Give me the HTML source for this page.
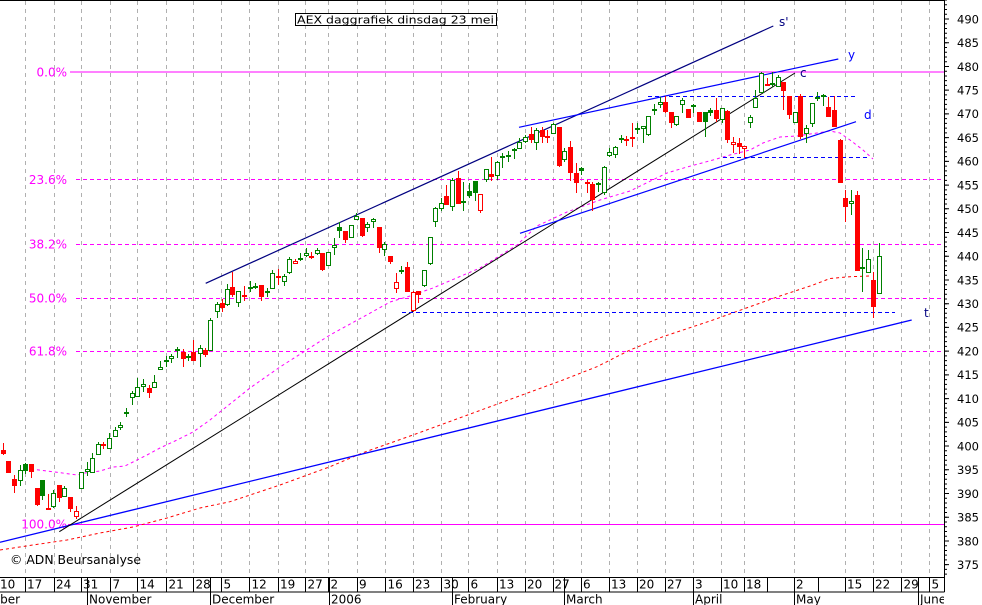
<!DOCTYPE html>
<html><head><meta charset="utf-8"><style>
html,body{margin:0;padding:0;background:#fff;}
svg{display:block;}
text{font-family:"DejaVu Sans","Liberation Sans",sans-serif;}
</style></head><body>
<svg width="982" height="605" viewBox="0 0 982 605" xmlns="http://www.w3.org/2000/svg">
<defs><clipPath id="cp"><rect x="0" y="0" width="944" height="605"/></clipPath></defs>
<rect width="982" height="605" fill="#fff"/>
<!-- vertical gridlines -->
<path stroke="#b0b0b0" stroke-width="1" stroke-dasharray="4 4" fill="none" d="M25.5 1V577M54.5 1V577M81.5 1V577M110.5 1V577M137.5 1V577M166.5 1V577M193.5 1V577M221.5 1V577M249.5 1V577M278.5 1V577M305.5 1V577M328.5 1V577M357.5 1V577M385.5 1V577M413.5 1V577M441.5 1V577M468.5 1V577M497.5 1V577M525.5 1V577M553.5 1V577M581.5 1V577M609.5 1V577M637.5 1V577M665.5 1V577M693.5 1V577M721.5 1V577M744.5 1V577M794.5 1V577M845.5 1V577M873.5 1V577M901.5 1V577M929.5 1V577"/>
<!-- fib lines -->
<path d="M70 72H944M68 524.5H944" stroke="#f0f" stroke-width="1" fill="none"/>
<path d="M76 179.5H944M76 244.5H944M76 298.5H944M76 351.5H944" stroke="#f0f" stroke-width="1" stroke-dasharray="4 3" fill="none"/>
<g fill="#f0f" font-size="12" text-anchor="end">
<text x="67" y="76.3">0.0%</text>
<text x="67" y="183.8">23.6%</text>
<text x="67" y="248.6">38.2%</text>
<text x="67" y="302.3">50.0%</text>
<text x="67" y="355.6">61.8%</text>
<text x="67" y="528.6">100.0%</text>
</g>
<!-- moving averages -->
<path fill="none" stroke="#f00" stroke-width="1" stroke-dasharray="3 3" d="M0 550L33 545L67 540L100 533L133 527L167 518L200 508L230 501.7L280 485L330 466.7L363 452.7L413 435L463 416.7L513 398.3L563 380L597 366.7L630 350L663 336.7L713 320L750 306.7L780 296L813 285L830 278.5L850 276.7L870 276"/>
<path fill="none" stroke="#f0f" stroke-width="1" stroke-dasharray="3 3" d="M31 469L55 472L77 475L85 473L100 471L113 467L125 466L133 462L147 455L160 448L177 440L193 432L210 420L225 408L250 388L280 367L330 335L363 317L390 302L410 296L433 288L480 268L517 245L537 226L567 212L600 200L630 191L667 173L687 167L713 160L730 155L750 150L763 143L780 137L797 136L817 133L830 131L840 133L850 140L863 150L873 159"/>
<!-- trend lines -->
<path d="M0 542.3L911.7 320" stroke="#00f" stroke-width="1.3" fill="none"/>
<path d="M59.3 531.7L795 73" stroke="#000" stroke-width="1" fill="none"/>
<path d="M205.7 283.3L773.3 26" stroke="#000080" stroke-width="1.2" fill="none"/>
<path d="M519 127.3L838.3 59" stroke="#00f" stroke-width="1.2" fill="none"/>
<path d="M520 233.3L856 121.7" stroke="#00f" stroke-width="1.2" fill="none"/>
<path d="M402 312.5H895M648 96.5H855M723 157.5H869" stroke="#00f" stroke-width="1" stroke-dasharray="4 3" fill="none"/>
<!-- wicks -->
<path fill="none" stroke="#008000" stroke-width="1" d="M20.5 465V486M25.5 463V474M42.5 480V500M53.5 490V508M64.5 486V497M81.5 472V489M87.5 462V476M92.5 453V473M98.5 442V455M109.5 433V449M115.5 427V437M120.5 422V430M126.5 408V417M132.5 391V405M137.5 378V397M143.5 379V392M154.5 375V388M160.5 361V370M166.5 356V367M171.5 354V363M177.5 347V358M188.5 354V361M200.5 345V367M210.5 318V351M217.5 302V318M227.5 284V306M238.5 291V307M250.5 281V292M255.5 283V289M267.5 288V297M272.5 270V289M284.5 274V286M289.5 257V274M300.5 253V261M306.5 248V257M317.5 248V255M328.5 252V266M334.5 238V255M339.5 222V238M351.5 225V238M356.5 213V220M367.5 222V232M373.5 218V228M384.5 242V256M401.5 266V274M424.5 270V287M430.5 237V265M435.5 207V227M441.5 198V211M452.5 178V211M463.5 182V211M469.5 183V198M475.5 181V201M486.5 169V182M497.5 161V180M502.5 153V168M508.5 151V162M514.5 148V159M519.5 138V149M525.5 135V143M536.5 128V150M553.5 123V134M564.5 148V162M581.5 167V175M598.5 182V192M604.5 166V195M609.5 148V157M615.5 146V158M621.5 135V143M637.5 123V134M643.5 127V143M648.5 116V136M654.5 104V115M660.5 97V108M676.5 116V126M682.5 98V113M693.5 104V113M705.5 112V137M710.5 108V116M722.5 108V123M750.5 115V128M755.5 90V108M761.5 72V93M772.5 72V87M778.5 75V87M795.5 112V123M806.5 125V143M812.5 103V127M817.5 92V101M823.5 94V106M851.5 190V215M862.5 248V292M868.5 250V273M879.5 243V294"/>
<path fill="none" stroke="#f00" stroke-width="1" d="M3.5 443V455M8.5 461V473M14.5 475V493M31.5 464V478M37.5 488V506M48.5 494V510M59.5 485V502M70.5 497V512M76.5 506V519M103.5 442V449M149.5 385V398M183.5 349V367M193.5 340V361M205.5 348V357M222.5 299V312M232.5 272V297M244.5 286V301M261.5 285V301M278.5 269V285M295.5 259V264M311.5 252V259M322.5 253V271M345.5 231V243M362.5 218V237M379.5 227V253M390.5 256V264M396.5 273V293M407.5 262V292M413.5 291V312M418.5 291V303M446.5 185V205M458.5 171V204M480.5 194V213M491.5 157V181M531.5 127V143M542.5 127V143M547.5 130V143M559.5 127V167M570.5 141V181M576.5 163V193M587.5 180V193M592.5 182V211M626.5 136V146M632.5 123V147M665.5 96V113M671.5 112V128M688.5 109V118M699.5 112V122M716.5 98V122M727.5 110V143M733.5 137V153M739.5 138V154M744.5 146V158M767.5 78V86M783.5 82V110M789.5 96V119M800.5 94V139M828.5 97V117M834.5 96V127M840.5 139V183M845.5 190V222M857.5 191V271M873.5 272V318"/>
<!-- green filled bodies -->
<path fill="#008000" stroke="none" d="M23 464h5V471h-5zM40 480h5V496h-5zM124 412h5V414h-5zM164 360h5V362h-5zM175 349h5V351h-5zM186 356h5V358h-5zM248 287h5V289h-5zM265 291h5V293h-5zM298 258h5V260h-5zM337 227h5V231h-5zM399 270h5V272h-5zM467 191h5V196h-5zM473 181h5V193h-5zM500 156h5V158h-5zM506 155h5V157h-5zM512 149h5V151h-5zM579 168h5V171h-5zM596 183h5V185h-5zM619 138h5V140h-5zM635 128h5V130h-5zM652 109h5V111h-5zM691 105h5V107h-5zM703 112h5V122h-5zM708 110h5V113h-5zM770 83h5V85h-5zM815 97h5V99h-5zM821 95h5V97h-5zM860 267h5V269h-5z"/>
<!-- green hollow bodies -->
<path fill="#fff" stroke="#008000" stroke-width="1" d="M18.5 470.5h4V480.5h-4zM51.5 493.5h4V506.5h-4zM62.5 488.5h4V496.5h-4zM79.5 472.5h4V488.5h-4zM85.5 469.5h4V471.5h-4zM90.5 458.5h4V472.5h-4zM96.5 444.5h4V454.5h-4zM107.5 438.5h4V448.5h-4zM113.5 430.5h4V436.5h-4zM118.5 425.5h4V427.5h-4zM130.5 393.5h4V397.5h-4zM135.5 387.5h4V396.5h-4zM141.5 384.5h4V386.5h-4zM152.5 382.5h4V387.5h-4zM158.5 367.5h4V369.5h-4zM169.5 356.5h4V358.5h-4zM198.5 348.5h4V353.5h-4zM208.5 320.5h4V350.5h-4zM215.5 304.5h4V311.5h-4zM225.5 289.5h4V304.5h-4zM236.5 291.5h4V302.5h-4zM253.5 286.5h4V287.5h-4zM270.5 273.5h4V288.5h-4zM282.5 276.5h4V281.5h-4zM287.5 259.5h4V272.5h-4zM304.5 253.5h4V255.5h-4zM315.5 250.5h4V253.5h-4zM326.5 252.5h4V265.5h-4zM332.5 245.5h4V247.5h-4zM349.5 225.5h4V237.5h-4zM354.5 216.5h4V219.5h-4zM365.5 224.5h4V227.5h-4zM371.5 219.5h4V221.5h-4zM382.5 244.5h4V249.5h-4zM422.5 270.5h4V285.5h-4zM428.5 237.5h4V263.5h-4zM433.5 208.5h4V221.5h-4zM439.5 203.5h4V208.5h-4zM450.5 180.5h4V206.5h-4zM461.5 201.5h4V202.5h-4zM484.5 169.5h4V179.5h-4zM495.5 162.5h4V175.5h-4zM517.5 142.5h4V148.5h-4zM523.5 137.5h4V141.5h-4zM534.5 130.5h4V142.5h-4zM551.5 124.5h4V133.5h-4zM562.5 151.5h4V159.5h-4zM602.5 167.5h4V192.5h-4zM607.5 152.5h4V155.5h-4zM613.5 147.5h4V154.5h-4zM641.5 126.5h4V128.5h-4zM646.5 116.5h4V134.5h-4zM658.5 102.5h4V104.5h-4zM674.5 116.5h4V124.5h-4zM680.5 100.5h4V104.5h-4zM720.5 108.5h4V119.5h-4zM748.5 117.5h4V122.5h-4zM753.5 98.5h4V107.5h-4zM759.5 73.5h4V92.5h-4zM776.5 77.5h4V86.5h-4zM793.5 112.5h4V122.5h-4zM804.5 128.5h4V133.5h-4zM810.5 103.5h4V123.5h-4zM849.5 201.5h4V203.5h-4zM866.5 259.5h4V272.5h-4zM877.5 256.5h4V293.5h-4z"/>
<!-- red filled bodies -->
<path fill="#f00" stroke="none" d="M1 450h5V454h-5zM6 461h5V473h-5zM12 479h5V486h-5zM29 464h5V472h-5zM35 488h5V505h-5zM46 508h5V510h-5zM57 485h5V498h-5zM68 497h5V509h-5zM101 444h5V446h-5zM147 388h5V393h-5zM181 352h5V359h-5zM191 352h5V361h-5zM203 350h5V355h-5zM220 303h5V308h-5zM230 287h5V295h-5zM242 295h5V297h-5zM259 285h5V297h-5zM276 276h5V278h-5zM309 256h5V258h-5zM320 253h5V270h-5zM343 231h5V240h-5zM360 218h5V236h-5zM377 227h5V248h-5zM388 256h5V262h-5zM405 267h5V292h-5zM416 291h5V295h-5zM444 196h5V205h-5zM456 178h5V204h-5zM489 174h5V177h-5zM529 134h5V140h-5zM540 130h5V137h-5zM545 136h5V138h-5zM557 127h5V166h-5zM568 147h5V173h-5zM574 173h5V183h-5zM585 182h5V184h-5zM590 184h5V200h-5zM624 139h5V141h-5zM630 137h5V139h-5zM663 102h5V112h-5zM669 112h5V123h-5zM686 109h5V118h-5zM697 112h5V122h-5zM714 110h5V119h-5zM725 111h5V140h-5zM737 143h5V147h-5zM765 84h5V86h-5zM781 82h5V91h-5zM787 96h5V115h-5zM798 96h5V137h-5zM826 107h5V117h-5zM832 110h5V127h-5zM838 140h5V183h-5zM843 198h5V207h-5zM855 195h5V271h-5zM871 280h5V307h-5z"/>
<!-- red hollow bodies -->
<path fill="#fff" stroke="#f00" stroke-width="1" d="M74.5 511.5h4V516.5h-4zM293.5 261.5h4V263.5h-4zM394.5 282.5h4V288.5h-4zM411.5 292.5h4V310.5h-4zM478.5 194.5h4V210.5h-4zM731.5 142.5h4V144.5h-4zM742.5 146.5h4V148.5h-4z"/>
<!-- trend labels -->
<g font-size="12">
<text x="779" y="26" fill="#000080">s'</text>
<text x="848" y="59" fill="#0000ff">y</text>
<text x="800" y="77" fill="#000080">c</text>
<text x="864" y="119" fill="#0000ff">d</text>
<text x="924" y="317" fill="#000080">t</text>
</g>
<!-- title -->
<rect x="295.5" y="13.5" width="201" height="12" fill="#fff" stroke="#000" stroke-width="1"/>
<text x="297" y="23.3" font-size="11" textLength="197" lengthAdjust="spacingAndGlyphs" fill="#000">AEX daggrafiek dinsdag 23 mei</text>
<!-- copyright -->
<text x="10" y="564" font-size="12.5" textLength="131" lengthAdjust="spacingAndGlyphs" fill="#000">© ADN Beursanalyse</text>
<!-- frame -->
<path d="M0 0.5H944.5V577.5H0" stroke="#000" stroke-width="1" fill="none"/>
<path d="M0 592H944.5M944.5 577V592" stroke="#000" stroke-width="1" fill="none"/>
<!-- y ticks -->
<line x1="945.5" y1="-0.48" x2="945.5" y2="576" stroke="#000" stroke-width="3" stroke-dasharray="1 3.745"/>
<line x1="946.5" y1="18.5" x2="946.5" y2="566" stroke="#000" stroke-width="5" stroke-dasharray="1 22.725"/>
<g font-size="11.5" fill="#000">
<text x="957" y="23.3">490</text>
<text x="957" y="47">485</text>
<text x="957" y="70.8">480</text>
<text x="957" y="94.5">475</text>
<text x="957" y="118.2">470</text>
<text x="957" y="141.9">465</text>
<text x="957" y="165.7">460</text>
<text x="957" y="189.4">455</text>
<text x="957" y="213.1">450</text>
<text x="957" y="236.8">445</text>
<text x="957" y="260.6">440</text>
<text x="957" y="284.3">435</text>
<text x="957" y="308">430</text>
<text x="957" y="331.7">425</text>
<text x="957" y="355.5">420</text>
<text x="957" y="379.2">415</text>
<text x="957" y="402.9">410</text>
<text x="957" y="426.6">405</text>
<text x="957" y="450.4">400</text>
<text x="957" y="474.1">395</text>
<text x="957" y="497.8">390</text>
<text x="957" y="521.5">385</text>
<text x="957" y="545.3">380</text>
<text x="957" y="569">375</text>
</g>
<!-- x axis separators -->
<path stroke="#000" stroke-width="1" fill="none" d="M25.5 577V592M54.5 577V592M81.5 577V592M110.5 577V592M137.5 577V592M166.5 577V592M193.5 577V592M221.5 577V592M249.5 577V592M278.5 577V592M305.5 577V592M328.5 577V592M357.5 577V592M385.5 577V592M413.5 577V592M441.5 577V592M468.5 577V592M497.5 577V592M525.5 577V592M553.5 577V592M581.5 577V592M609.5 577V592M637.5 577V592M665.5 577V592M693.5 577V592M721.5 577V592M744.5 577V592M767.5 577V592M794.5 577V592M818.5 577V592M845.5 577V592M873.5 577V592M901.5 577V592M929.5 577V592"/>
<path stroke="#000" stroke-width="1" fill="none" d="M87.5 577V605M210.5 577V605M329.5 577V605M452.5 577V605M564.5 577V605M693.5 577V605M794.5 577V605M918.5 577V605"/>
<g font-size="12" fill="#000" clip-path="url(#cp)">
<text x="0" y="588.5">10</text>
<text x="27" y="588.5">17</text>
<text x="56" y="588.5">24</text>
<text x="83" y="588.5">31</text>
<text x="112.5" y="588.5">7</text>
<text x="139.5" y="588.5">14</text>
<text x="168.5" y="588.5">21</text>
<text x="195.5" y="588.5">28</text>
<text x="223.5" y="588.5">5</text>
<text x="251.5" y="588.5">12</text>
<text x="280" y="588.5">19</text>
<text x="307.5" y="588.5">27</text>
<text x="330.5" y="588.5">2</text>
<text x="359" y="588.5">9</text>
<text x="387.5" y="588.5">16</text>
<text x="415" y="588.5">23</text>
<text x="443.5" y="588.5">30</text>
<text x="470.5" y="588.5">6</text>
<text x="499" y="588.5">13</text>
<text x="527" y="588.5">20</text>
<text x="554.5" y="588.5">27</text>
<text x="583" y="588.5">6</text>
<text x="611" y="588.5">13</text>
<text x="639" y="588.5">20</text>
<text x="667" y="588.5">27</text>
<text x="695" y="588.5">3</text>
<text x="723" y="588.5">10</text>
<text x="746" y="588.5">18</text>
<text x="796" y="588.5">2</text>
<text x="847" y="588.5">15</text>
<text x="875" y="588.5">22</text>
<text x="903.5" y="588.5">29</text>
<text x="931.5" y="588.5">5</text>
<text x="-28" y="603.5">October</text>
<text x="89" y="603.5">November</text>
<text x="212" y="603.5">December</text>
<text x="331" y="603.5">2006</text>
<text x="454" y="603.5">February</text>
<text x="566" y="603.5">March</text>
<text x="695" y="603.5">April</text>
<text x="796" y="603.5">May</text>
<text x="920" y="603.5">June</text>
</g>
</svg>
</body></html>
